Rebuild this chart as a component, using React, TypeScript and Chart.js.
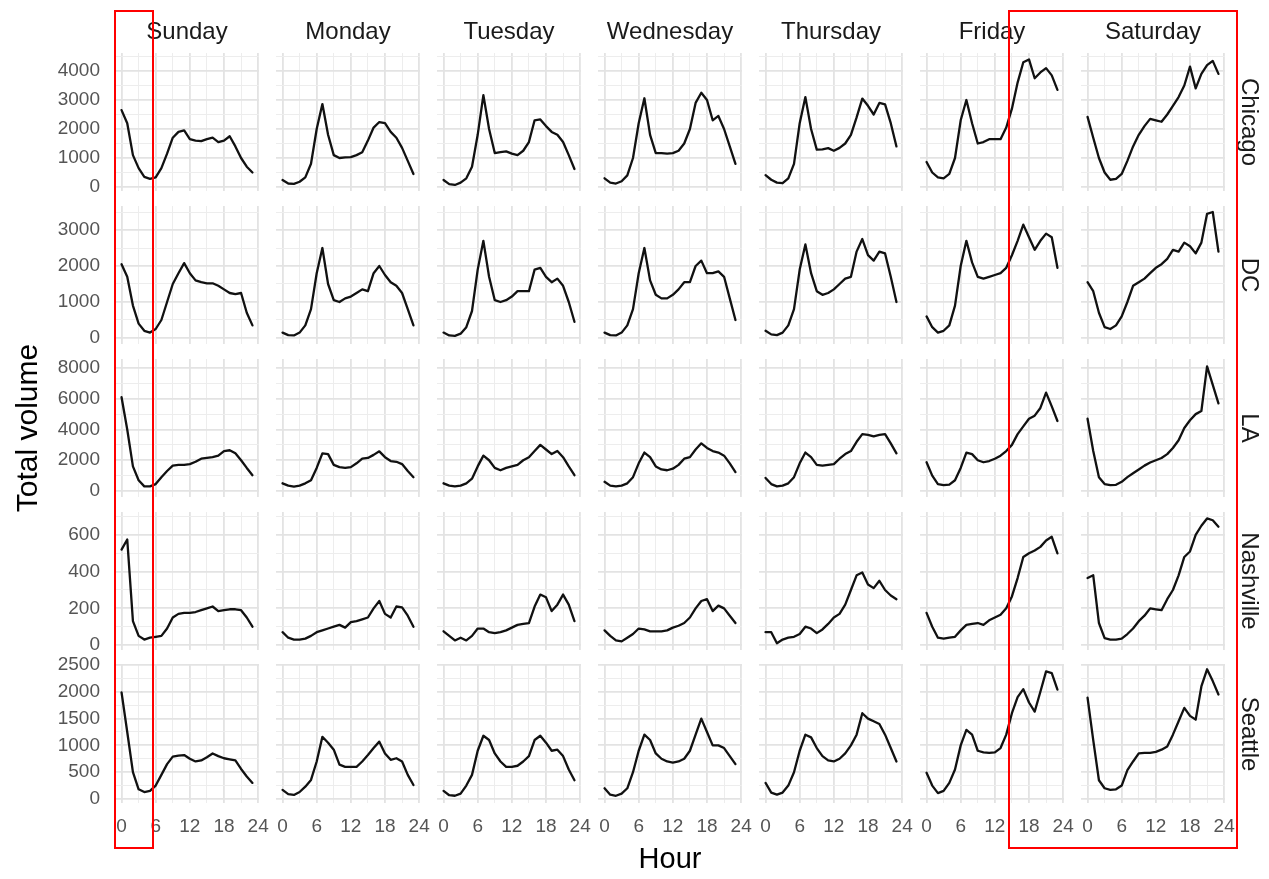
import React, { useEffect, useRef } from "react";
import { Chart, registerables } from "chart.js";

Chart.register(...registerables);

// ---------- categories ----------
const days = ["Sunday", "Monday", "Tuesday", "Wednesday", "Thursday", "Friday", "Saturday"];
const cities = ["Chicago", "DC", "LA", "Nashville", "Seattle"];
const hours = [0, 1, 2, 3, 4, 5, 6, 7, 8, 9, 10, 11, 12, 13, 14, 15, 16, 17, 18, 19, 20, 21, 22, 23];
const xTickLabels = [0, 6, 12, 18, 24];

// ---------- y tick labels per city ----------
const chicagoTicks = [0, 1000, 2000, 3000, 4000];
const dcTicks = [0, 1000, 2000, 3000];
const laTicks = [0, 2000, 4000, 6000, 8000];
const nashvilleTicks = [0, 200, 400, 600];
const seattleTicks = [0, 500, 1000, 1500, 2000, 2500];

// ---------- series values (hour 0..23), one list per weekday ----------
const chicago = [
  [2650, 2200, 1100, 650, 350, 280, 330, 650, 1150, 1700, 1900, 1950, 1650, 1600, 1580, 1650, 1700, 1550, 1600, 1750, 1400, 1000, 700, 500],
  [240, 120, 110, 180, 330, 800, 2000, 2860, 1800, 1100, 1000, 1020, 1030, 1100, 1200, 1600, 2050, 2240, 2200, 1900, 1700, 1350, 900, 450],
  [240, 100, 70, 150, 300, 700, 1800, 3170, 2000, 1170, 1200, 1230, 1150, 1100, 1250, 1550, 2300, 2330, 2100, 1900, 1800, 1550, 1100, 620],
  [300, 150, 120, 200, 400, 1000, 2200, 3060, 1800, 1170, 1170, 1150, 1170, 1250, 1500, 2000, 2900, 3250, 3000, 2300, 2450, 2000, 1400, 800],
  [410, 250, 150, 130, 300, 800, 2200, 3100, 2000, 1290, 1300, 1340, 1250, 1350, 1500, 1800, 2400, 3050, 2800, 2500, 2900, 2850, 2200, 1400],
  [860, 500, 330, 300, 450, 1000, 2300, 3000, 2200, 1500, 1550, 1650, 1650, 1650, 2050, 2700, 3600, 4300, 4400, 3750, 3950, 4100, 3850, 3350],
  [2420, 1700, 1000, 500, 250, 280, 450, 900, 1400, 1800, 2100, 2350, 2300, 2250, 2500, 2800, 3100, 3500, 4150, 3400, 3900, 4200, 4350, 3900],
];
const dc = [
  [2050, 1700, 900, 400, 200, 150, 250, 500, 1000, 1500, 1800, 2080, 1800, 1600, 1550, 1520, 1520, 1450, 1350, 1250, 1220, 1250, 700, 350],
  [150, 80, 70, 150, 350, 800, 1800, 2500, 1500, 1050, 1000, 1100, 1150, 1250, 1350, 1300, 1800, 2000, 1750, 1550, 1450, 1250, 800, 350],
  [150, 70, 60, 120, 300, 750, 1900, 2700, 1700, 1050, 1000, 1050, 1150, 1300, 1300, 1300, 1900, 1950, 1700, 1550, 1650, 1450, 1000, 450],
  [150, 80, 70, 150, 350, 800, 1800, 2500, 1600, 1200, 1100, 1100, 1200, 1350, 1550, 1550, 2000, 2150, 1800, 1800, 1850, 1700, 1100, 500],
  [200, 100, 80, 150, 350, 800, 1900, 2600, 1800, 1300, 1200, 1250, 1350, 1500, 1650, 1700, 2400, 2750, 2300, 2150, 2400, 2350, 1700, 1000],
  [600, 300, 150, 200, 350, 900, 2000, 2700, 2100, 1700, 1650, 1700, 1750, 1800, 1950, 2300, 2700, 3150, 2800, 2450, 2700, 2900, 2800, 1950],
  [1550, 1300, 700, 300, 250, 350, 600, 1000, 1450, 1550, 1650, 1800, 1950, 2050, 2200, 2450, 2400, 2650, 2550, 2350, 2650, 3450, 3500, 2400],
];
const la = [
  [6100, 4000, 1600, 700, 300, 300, 450, 900, 1300, 1650, 1700, 1700, 1750, 1900, 2100, 2150, 2200, 2300, 2600, 2650, 2450, 2000, 1500, 1030],
  [500, 350, 290, 350, 500, 700, 1500, 2450, 2400, 1700, 1550, 1500, 1550, 1800, 2100, 2150, 2350, 2580, 2200, 1950, 1900, 1750, 1300, 900],
  [500, 350, 300, 350, 500, 800, 1600, 2300, 2000, 1500, 1350, 1500, 1600, 1700, 2000, 2200, 2600, 3000, 2700, 2400, 2600, 2200, 1600, 1030],
  [600, 350, 300, 350, 500, 900, 1800, 2500, 2200, 1600, 1400, 1350, 1450, 1700, 2100, 2200, 2700, 3100, 2800, 2600, 2500, 2300, 1800, 1230],
  [850, 450, 300, 350, 500, 900, 1800, 2500, 2200, 1700, 1650, 1700, 1750, 2100, 2400, 2600, 3200, 3700, 3650, 3550, 3650, 3700, 3100, 2450],
  [1870, 1000, 450, 380, 420, 700, 1500, 2500, 2400, 2000, 1870, 1950, 2100, 2300, 2600, 3000, 3700, 4200, 4700, 4900, 5400, 6400, 5500, 4550],
  [4700, 2600, 900, 450, 380, 400, 600, 900, 1150, 1400, 1650, 1850, 2000, 2150, 2400, 2800, 3300, 4100, 4600, 5000, 5200, 8100, 6900, 5700],
];
const nashville = [
  [520, 575, 130, 50, 30, 40, 45, 50, 90, 150, 170, 175, 175, 180, 190, 200, 210, 185, 190, 195, 195, 190, 150, 100],
  [70, 40, 30, 30, 35, 50, 70, 80, 90, 100, 110, 95, 125, 130, 140, 150, 200, 240, 170, 150, 210, 205, 160, 100],
  [75, 50, 25, 40, 25, 50, 90, 90, 70, 65, 70, 80, 95, 110, 115, 120, 210, 275, 260, 185, 220, 275, 220, 130],
  [80, 50, 25, 20, 40, 60, 90, 85, 75, 75, 75, 80, 95, 105, 120, 150, 200, 240, 250, 185, 215, 200, 160, 120],
  [70, 70, 10, 30, 40, 45, 60, 100, 90, 65, 85, 115, 150, 170, 220, 300, 380, 395, 330, 310, 350, 300, 270, 250],
  [175, 100, 40, 35, 40, 45, 80, 110, 115, 120, 110, 135, 150, 165, 200, 265, 365, 480, 500, 515, 535, 570, 590, 500],
  [365, 380, 120, 38, 30, 30, 35, 60, 90, 130, 160, 200, 195, 190, 250, 300, 380, 480, 510, 600, 650, 690, 680, 645],
];
const seattle = [
  [1990, 1250, 500, 180, 130, 150, 250, 450, 650, 790, 810, 820, 750, 700, 720, 780, 850, 800, 760, 740, 720, 560, 420, 300],
  [170, 90, 75, 130, 230, 355, 700, 1160, 1050, 920, 640, 600, 600, 600, 700, 820, 950, 1070, 850, 730, 760, 700, 450, 260],
  [150, 70, 60, 100, 250, 450, 900, 1180, 1100, 850, 700, 600, 600, 620, 700, 800, 1100, 1180, 1050, 900, 920, 800, 550, 350],
  [200, 80, 60, 100, 200, 500, 900, 1200, 1100, 850, 750, 700, 680, 700, 750, 900, 1200, 1500, 1250, 1000, 1000, 950, 800, 650],
  [300, 120, 80, 120, 250, 500, 900, 1200, 1150, 950, 800, 720, 700, 750, 850, 1000, 1200, 1600, 1500, 1450, 1400, 1200, 950, 700],
  [490, 250, 110, 150, 300, 550, 1000, 1290, 1200, 900, 870, 860, 870, 950, 1200, 1600, 1900, 2050, 1800, 1630, 2000, 2380, 2350, 2040],
  [1890, 1100, 350, 200, 170, 180, 250, 540, 700, 850, 860, 860, 880, 920, 980, 1200, 1450, 1700, 1550, 1480, 2100, 2420, 2200, 1950],
];

const cityValues = [chicago, dc, la, nashville, seattle];
const cityTicks = [chicagoTicks, dcTicks, laTicks, nashvilleTicks, seattleTicks];

// ---------- axis ranges (ggplot-style expanded) ----------
const yMin = [-138, -167, -390, -27, -75];
const yMax = [4621, 3667, 8585, 725, 2500];
const xMin = -1.15;
const xMax = 24.15;

// ---------- layout ----------
const PANEL_W = 144;
const PANEL_H = 138;
const COL_LEFT0 = 115;
const COL_PITCH = 161;
const ROW_TOPS = [53, 206, 359, 512, 665];
const LEFT_AXIS_W = 70;
const BOTTOM_AXIS_H = 34;
const PAD = 14;

const FONT = "'Liberation Sans', Arial, Helvetica, sans-serif";
const TICK_COLOR = "#555555";
const STRIP_COLOR = "#1A1A1A";
const GRID_MAJOR = "#E3E3E3";
const GRID_MINOR = "#EDEDED";

function gridValues(ticks: number[], max: number): number[] {
  const step = (ticks[1] - ticks[0]) / 2;
  const out: number[] = [];
  for (let v = ticks[0]; v <= max; v += step) out.push(v);
  return out;
}

function zeroPadding(s: any) {
  s.paddingLeft = 0;
  s.paddingRight = 0;
  s.paddingTop = 0;
  s.paddingBottom = 0;
}

function Panel({ row, col }: { row: number; col: number }) {
  const ref = useRef<HTMLCanvasElement | null>(null);
  const isLeft = col === 0;
  const isBottom = row === cities.length - 1;
  const padL = isLeft ? LEFT_AXIS_W : PAD;
  const padB = isBottom ? BOTTOM_AXIS_H : PAD;
  const cw = PANEL_W + padL + PAD;
  const ch = PANEL_H + PAD + padB;
  const left = COL_LEFT0 + col * COL_PITCH - padL;
  const top = ROW_TOPS[row] - PAD;

  useEffect(() => {
    if (!ref.current) return;
    const values = cityValues[row][col];
    const ticks = cityTicks[row];
    const yMajorStep = ticks[1] - ticks[0];
    const yGrid = gridValues(ticks, yMax[row]);
    const xGrid = gridValues(xTickLabels, 24);
    const chart = new Chart(ref.current, {
      type: "line",
      data: {
        datasets: [
          {
            data: hours.map((h, i) => ({ x: h, y: values[i] })),
            borderColor: "#111111",
            borderWidth: 2.3,
            pointRadius: 0,
            tension: 0,
            fill: false,
            borderJoinStyle: "round",
            borderCapStyle: "round",
          },
        ],
      },
      options: {
        animation: false,
        responsive: false,
        maintainAspectRatio: false,
        events: [],
        plugins: { legend: { display: false }, tooltip: { enabled: false } },
        layout: {
          padding: { left: isLeft ? 0 : PAD, right: PAD, top: PAD, bottom: isBottom ? 0 : PAD },
        },
        scales: {
          x: {
            type: "linear",
            min: xMin,
            max: xMax,
            afterBuildTicks: (s: any) => {
              s.ticks = xGrid.map((v) => ({ value: v }));
            },
            afterFit: (s: any) => {
              s.height = isBottom ? BOTTOM_AXIS_H : 0;
              zeroPadding(s);
            },
            ticks: {
              display: isBottom,
              autoSkip: false,
              maxRotation: 0,
              padding: 12,
              color: TICK_COLOR,
              font: { family: FONT, size: 19 },
              callback: (v: any) => (v % 6 === 0 ? String(v) : ""),
            },
            grid: {
              drawTicks: false,
              color: (ctx: any) => (ctx.tick && ctx.tick.value % 6 === 0 ? GRID_MAJOR : GRID_MINOR),
              lineWidth: (ctx: any) => (ctx.tick && ctx.tick.value % 6 === 0 ? 1.8 : 1),
            },
            border: { display: false },
          },
          y: {
            type: "linear",
            min: yMin[row],
            max: yMax[row],
            afterBuildTicks: (s: any) => {
              s.ticks = yGrid.map((v) => ({ value: v }));
            },
            afterFit: (s: any) => {
              s.width = isLeft ? LEFT_AXIS_W : 0;
              zeroPadding(s);
            },
            ticks: {
              display: isLeft,
              autoSkip: false,
              padding: 15,
              color: TICK_COLOR,
              font: { family: FONT, size: 19 },
              callback: (v: any) => (v % yMajorStep === 0 ? String(v) : ""),
            },
            grid: {
              drawTicks: false,
              color: (ctx: any) => (ctx.tick && ctx.tick.value % yMajorStep === 0 ? GRID_MAJOR : GRID_MINOR),
              lineWidth: (ctx: any) => (ctx.tick && ctx.tick.value % yMajorStep === 0 ? 1.8 : 1),
            },
            border: { display: false },
          },
        },
      },
    } as any);
    return () => chart.destroy();
  }, [row, col]);

  return (
    <canvas
      ref={ref}
      width={cw}
      height={ch}
      style={{ position: "absolute", left, top, width: cw, height: ch }}
    />
  );
}

export default function App() {
  const panels: React.ReactNode[] = [];
  cities.forEach((_, r) => {
    days.forEach((_, c) => {
      panels.push(<Panel key={`${r}-${c}`} row={r} col={c} />);
    });
  });
  const gridRight = COL_LEFT0 + 6 * COL_PITCH + PANEL_W;
  const gridBottom = ROW_TOPS[4] + PANEL_H;
  return (
    <div
      style={{
        position: "absolute",
        left: 0,
        top: 0,
        width: 1269,
        height: 879,
        background: "#FFFFFF",
        fontFamily: FONT,
        overflow: "hidden",
      }}
    >
      {panels}
      {days.map((d, c) => (
        <div
          key={d}
          style={{
            position: "absolute",
            left: COL_LEFT0 + c * COL_PITCH - 10,
            width: PANEL_W + 20,
            top: 17,
            textAlign: "center",
            fontSize: 24,
            color: STRIP_COLOR,
            lineHeight: "28px",
            whiteSpace: "nowrap",
          }}
        >
          {d}
        </div>
      ))}
      {cities.map((city, r) => (
        <div
          key={city}
          style={{
            position: "absolute",
            left: gridRight + 25,
            top: ROW_TOPS[r] + PANEL_H / 2,
            transform: "translate(-50%, -50%) rotate(90deg)",
            fontSize: 24,
            color: STRIP_COLOR,
            whiteSpace: "nowrap",
            lineHeight: "28px",
          }}
        >
          {city}
        </div>
      ))}
      <div
        style={{
          position: "absolute",
          left: 27,
          top: (ROW_TOPS[0] + gridBottom) / 2,
          transform: "translate(-50%, -50%) rotate(-90deg)",
          fontSize: 30,
          color: "#000000",
          whiteSpace: "nowrap",
        }}
      >
        Total volume
      </div>
      <div
        style={{
          position: "absolute",
          left: (COL_LEFT0 + gridRight) / 2,
          top: 858,
          transform: "translate(-50%, -50%)",
          fontSize: 29,
          color: "#000000",
          whiteSpace: "nowrap",
        }}
      >
        Hour
      </div>
      <div
        style={{
          position: "absolute",
          left: 114,
          top: 10,
          width: 40,
          height: 839,
          border: "2.5px solid #FF0000",
          boxSizing: "border-box",
        }}
      />
      <div
        style={{
          position: "absolute",
          left: 1008,
          top: 10,
          width: 230,
          height: 839,
          border: "2.5px solid #FF0000",
          boxSizing: "border-box",
        }}
      />
    </div>
  );
}
